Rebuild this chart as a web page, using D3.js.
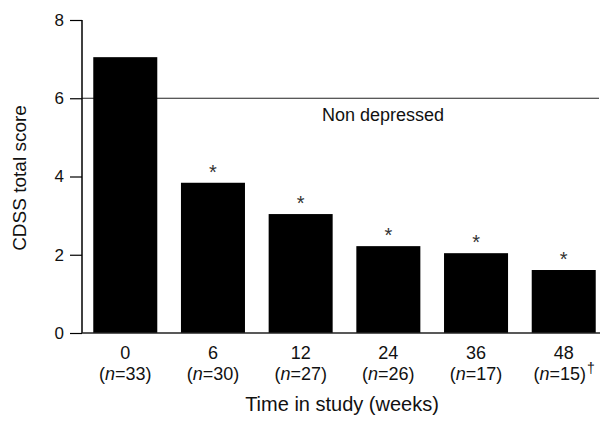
<!DOCTYPE html>
<html>
<head>
<meta charset="utf-8">
<script src="https://cdn.jsdelivr.net/npm/d3@7"></script>
<style>
  body { margin: 0; background: #fff; }
  svg { display: block; font-family: "Liberation Sans", Arial, sans-serif; }
</style>
</head>
<body>
<svg id="chart" width="600" height="424"></svg>
<script>
// chart data
const weeks = ["0", "6", "12", "24", "36", "48"];
const counts = ["33", "30", "27", "26", "17", "15"];
const scores = [7.05, 3.84, 3.04, 2.22, 2.04, 1.61];
const significant = [false, true, true, true, true, true];
const yTicks = [0, 2, 4, 6, 8];
const threshold = 6;

const svg = d3.select("#chart");

const x = d3.scaleBand()
    .domain(weeks)
    .range([84.5, 604.5])
    .paddingInner(0.27)
    .paddingOuter(0.1);

const y = d3.scaleLinear()
    .domain([0, 8])
    .range([333, 20]);

const axisLeft = 82;

// threshold line (drawn under bars)
svg.append("line")
    .attr("x1", axisLeft).attr("x2", 599)
    .attr("y1", y(threshold)).attr("y2", y(threshold))
    .attr("stroke", "#222").attr("stroke-width", 1.2);

svg.append("text")
    .attr("x", 322).attr("y", 121)
    .attr("font-size", 18)
    .attr("fill", "#111")
    .text("Non depressed");

// bars
svg.selectAll("rect.bar")
    .data(scores)
    .join("rect")
    .attr("class", "bar")
    .attr("x", (d, i) => x(weeks[i]))
    .attr("width", x.bandwidth())
    .attr("y", d => y(d))
    .attr("height", d => y(0) - y(d))
    .attr("fill", "#000");

// asterisks
svg.selectAll("text.star")
    .data(scores.map((d, i) => ({ v: d, w: weeks[i], s: significant[i] })).filter(d => d.s))
    .join("text")
    .attr("class", "star")
    .attr("x", d => x(d.w) + x.bandwidth() / 2)
    .attr("y", d => y(d.v) - 4)
    .attr("text-anchor", "middle")
    .attr("font-size", 20)
    .attr("fill", "#333")
    .text("*");

// y axis
const yAxis = svg.append("g")
    .attr("transform", `translate(${axisLeft},0)`)
    .call(d3.axisLeft(y).tickValues(yTicks).tickSize(12).tickPadding(6).tickFormat(d3.format("d")));
yAxis.select(".domain").attr("d", `M0,${y(8)}V${y(0)}`).attr("stroke-width", 1.5);
yAxis.selectAll(".tick line").attr("stroke-width", 1.2);
yAxis.selectAll(".tick text").attr("font-size", 17).attr("fill", "#111");

// x axis baseline
svg.append("line")
    .attr("x1", axisLeft).attr("x2", 600)
    .attr("y1", y(0)).attr("y2", y(0))
    .attr("stroke", "#222").attr("stroke-width", 1.5);

// x labels
const xl = svg.append("g").attr("font-size", 18).attr("fill", "#111").attr("text-anchor", "middle");
xl.selectAll("text.wk")
    .data(weeks)
    .join("text")
    .attr("class", "wk")
    .attr("x", d => x(d) + x.bandwidth() / 2)
    .attr("y", 359)
    .text(d => d);

const nl = xl.selectAll("text.n")
    .data(counts)
    .join("text")
    .attr("class", "n")
    .attr("x", (d, i) => x(weeks[i]) + x.bandwidth() / 2 - (i === counts.length - 1 ? 4 : 0))
    .attr("y", 380);
nl.append("tspan").text("(");
nl.append("tspan").attr("font-style", "italic").text("n");
nl.append("tspan").text(d => "=" + d + ")");

// dagger after last label
const lastNode = nl.nodes()[counts.length - 1];
const box = lastNode.getBBox();
svg.append("text")
    .attr("x", box.x + box.width + 1).attr("y", 373)
    .attr("font-size", 14).attr("fill", "#111")
    .text("\u2020");

// axis titles
svg.append("text")
    .attr("x", 342).attr("y", 411)
    .attr("text-anchor", "middle")
    .attr("font-size", 20).attr("fill", "#111")
    .text("Time in study (weeks)");

svg.append("text")
    .attr("transform", `translate(26,178) rotate(-90)`)
    .attr("text-anchor", "middle")
    .attr("font-size", 19).attr("fill", "#111")
    .text("CDSS total score");
</script>
</body>
</html>
